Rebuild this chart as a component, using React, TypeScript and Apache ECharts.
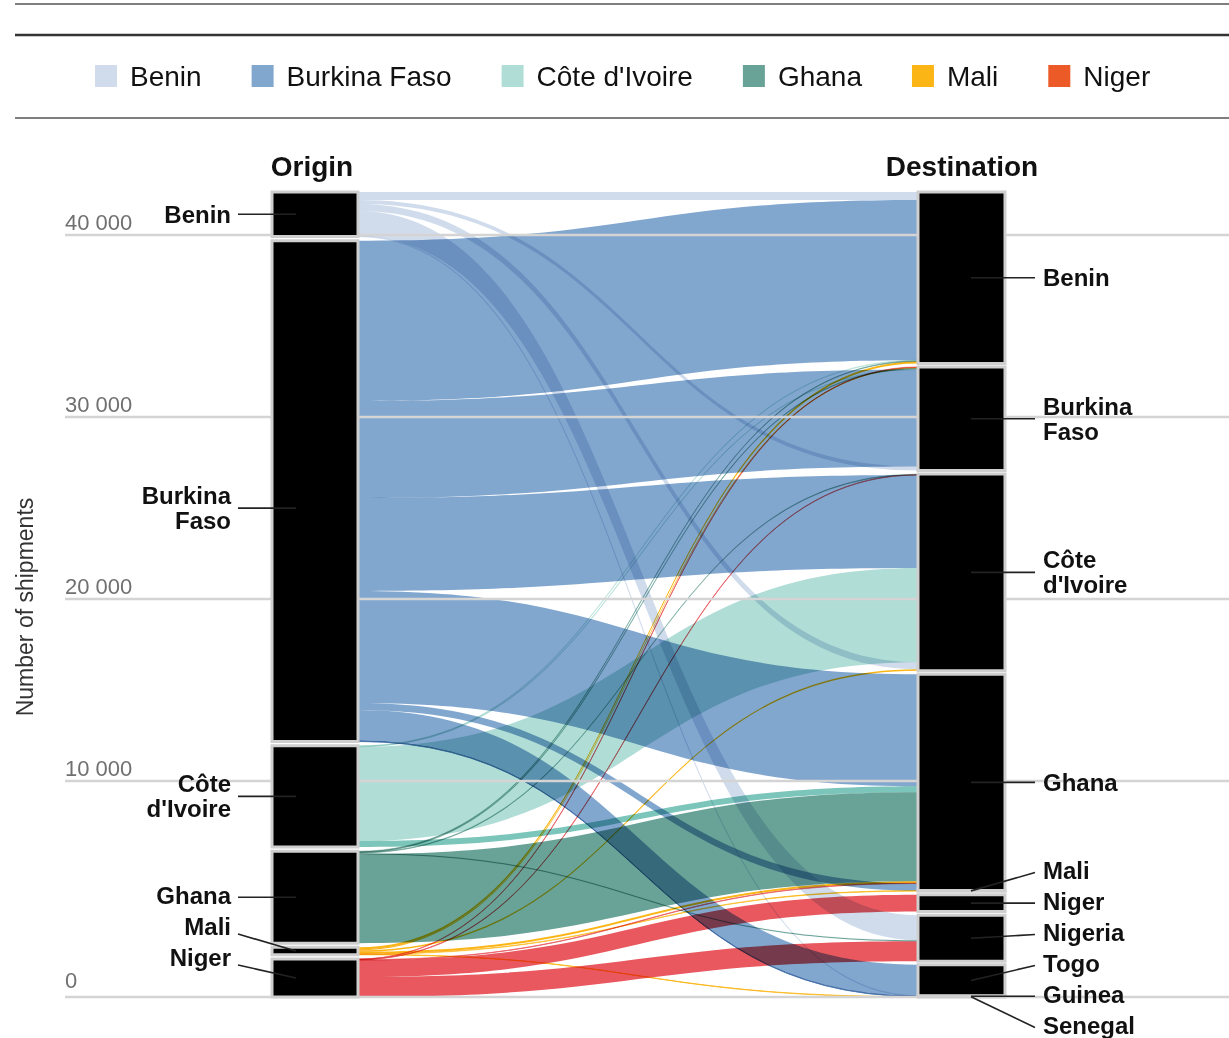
import React, { useEffect, useRef } from "react";
import * as echarts from "echarts";

// ---------- data ----------
const originNames = ["Benin", "Burkina Faso", "Côte d'Ivoire", "Ghana", "Mali", "Niger"];
const destinationNames = ["Benin", "Burkina Faso", "Côte d'Ivoire", "Ghana", "Mali", "Niger", "Nigeria", "Togo", "Guinea", "Senegal"];
const originLabels = ["Benin", "Burkina\nFaso", "Côte\nd'Ivoire", "Ghana", "Mali", "Niger"];
const destinationLabels = ["Benin", "Burkina\nFaso", "Côte\nd'Ivoire", "Ghana", "Mali", "Niger", "Nigeria", "Togo", "Guinea", "Senegal"];
const legendColors = ["#d0dcec", "#82a7cf", "#b0ddd6", "#69a297", "#fbb615", "#eb5a27"];
const flowColors = ["#d0dcec", "#82a7cf", "#b0ddd6", "#69a297", "#fbb615", "#e8585e"];

// flows listed in the order they leave each origin (top to bottom)
const flowOrigin = [
  "Benin", "Benin", "Benin", "Benin", "Benin",
  "Burkina Faso", "Burkina Faso", "Burkina Faso", "Burkina Faso", "Burkina Faso", "Burkina Faso", "Burkina Faso", "Burkina Faso",
  "Côte d'Ivoire", "Côte d'Ivoire", "Côte d'Ivoire", "Côte d'Ivoire",
  "Ghana", "Ghana", "Ghana", "Ghana", "Ghana",
  "Mali", "Mali", "Mali", "Mali", "Mali", "Mali",
  "Niger", "Niger", "Niger", "Niger", "Niger",
];
const flowDestination = [
  "Benin", "Burkina Faso", "Côte d'Ivoire", "Nigeria", "Togo",
  "Benin", "Burkina Faso", "Côte d'Ivoire", "Ghana", "Ghana", "Togo", "Guinea", "Senegal",
  "Benin", "Burkina Faso", "Côte d'Ivoire", "Ghana",
  "Benin", "Burkina Faso", "Côte d'Ivoire", "Nigeria", "Ghana",
  "Benin", "Burkina Faso", "Côte d'Ivoire", "Ghana", "Mali", "Senegal",
  "Burkina Faso", "Côte d'Ivoire", "Ghana", "Niger", "Nigeria",
];
const flowShipments = [
  440, 220, 390, 1380, 20,
  8800, 5330, 5110, 6150, 390, 1700, 15, 15,
  35, 30, 5170, 330,
  35, 35, 35, 55, 4890,
  110, 55, 80, 110, 30, 20,
  20, 20, 20, 930, 1100,
];
// order in which flows arrive into each destination (smaller = higher)
const flowDestRank = [
  0, 9, 7, 0, 5,
  1, 5, 3, 0, 9, 1, 0, 0,
  2, 4, 5, 2,
  3, 3, 0, 1, 3,
  4, 2, 8, 4, 0, 1,
  1, 1, 5, 0, 2,
];
const tickValues = [0, 10000, 20000, 30000, 40000];

// ---------- layout / style constants ----------
const AXIS_MIN = -1868;
const AXIS_MAX = 42363;
const X_MAX = 1164;
const ORIGIN_LEFT = 207;
const ORIGIN_RIGHT = 293;
const DEST_LEFT = 853;
const DEST_RIGHT = 940;
const FONT = "'Liberation Sans', Arial, Helvetica, sans-serif";
const originLabelNudge = [0, 17, 0, 0, 0, 0];
const flowColorOverride: Record<number, string> = { 16: "#7cc5ba" };

const sum = (a: number[]) => a.reduce((s, v) => s + v, 0);
const originTotals = originNames.map((n) => sum(flowShipments.filter((_, f) => flowOrigin[f] === n)));
const destTotals = destinationNames.map((n) => sum(flowShipments.filter((_, f) => flowDestination[f] === n)));

function stackColumn(totals: number[]) {
  const TINY = 100;
  const hasGap = totals.map((t, i) => i > 0 && t >= TINY);
  const nGaps = hasGap.filter(Boolean).length;
  const gap = (AXIS_MAX - AXIS_MIN - sum(totals)) / nGaps;
  let cur = AXIS_MAX;
  return totals.map((t, i) => {
    if (hasGap[i]) cur -= gap;
    const top = cur;
    cur -= t;
    return [top, cur];
  });
}
const originNodes = stackColumn(originTotals);
const destNodes = stackColumn(destTotals);

const flowSrc: number[][] = [];
const flowDst: number[][] = [];
originNames.forEach((n, i) => {
  let cur = originNodes[i][0];
  flowShipments.forEach((v, f) => {
    if (flowOrigin[f] === n) {
      flowSrc[f] = [cur, cur - v];
      cur -= v;
    }
  });
});
destinationNames.forEach((n, j) => {
  let cur = destNodes[j][0];
  const list = flowShipments.map((_, f) => f).filter((f) => flowDestination[f] === n);
  list.sort((a, b) => flowDestRank[a] - flowDestRank[b] || a - b);
  list.forEach((f) => {
    flowDst[f] = [cur, cur - flowShipments[f]];
    cur -= flowShipments[f];
  });
});

function relax(centers: number[], heights: number[], minY: number, maxY: number) {
  const y = centers.map((c) => Math.min(maxY, Math.max(minY, c)));
  for (let it = 0; it < 400; it++) {
    for (let i = 0; i < y.length - 1; i++) {
      const sep = (heights[i] + heights[i + 1]) / 2 + 6;
      const d = sep - (y[i + 1] - y[i]);
      if (d > 0) {
        y[i] -= d / 2;
        y[i + 1] += d / 2;
      }
    }
    for (let i = 0; i < y.length; i++) y[i] = Math.min(maxY, Math.max(minY, y[i]));
  }
  return y;
}

const fmt = (v: number) => String(v).replace(/\B(?=(\d{3})+(?!\d))/g, " ");

function buildOption() {
  const flowSeries = originNames.map((name, oi) => ({
    type: "custom",
    name,
    z: 1,
    silent: true,
    coordinateSystem: "cartesian2d",
    itemStyle: { color: legendColors[oi] },
    data: flowShipments.map((_, f) => f).filter((f) => flowOrigin[f] === name).map((f) => [f, 0]),
    renderItem: (params: any, api: any) => {
      const f = api.value(0);
      const sx = api.coord([ORIGIN_RIGHT, 0])[0];
      const dx = api.coord([DEST_LEFT, 0])[0];
      const sy0 = api.coord([0, flowSrc[f][0]])[1];
      const sy1 = api.coord([0, flowSrc[f][1]])[1];
      const ty0 = api.coord([0, flowDst[f][0]])[1];
      const ty1 = api.coord([0, flowDst[f][1]])[1];
      const mx = (sx + dx) / 2;
      const d =
        `M${sx},${sy0}C${mx},${sy0} ${mx},${ty0} ${dx},${ty0}` +
        `L${dx},${ty1}C${mx},${ty1} ${mx},${sy1} ${sx},${sy1}Z`;
      const thick = Math.abs(sy1 - sy0);
      const color = flowColorOverride[f] || flowColors[oi];
      return {
        type: "path",
        shape: { pathData: d },
        style: {
          fill: color,
          stroke: thick < 1.1 ? color : "none",
          lineWidth: thick < 1.1 ? 1.1 - thick : 0,
        },
      };
    },
  }));

  const gridSeries = {
    type: "custom",
    name: "grid",
    z: 2,
    silent: true,
    coordinateSystem: "cartesian2d",
    data: tickValues.map((v) => [0, v]),
    renderItem: (params: any, api: any) => {
      const v = api.value(1);
      const y = api.coord([0, v === 0 ? AXIS_MIN : v])[1];
      const x0 = api.coord([0, 0])[0];
      const x1 = api.coord([X_MAX, 0])[0];
      return {
        type: "group",
        children: [
          { type: "line", shape: { x1: x0, y1: y, x2: x1, y2: y }, style: { stroke: "#d4d4d4", lineWidth: 2.5 } },
          {
            type: "text",
            x: x0,
            y: y - (v === 0 ? 17 : 13),
            style: { text: fmt(v), fill: "#707070", fontSize: 22, fontFamily: FONT, align: "left", verticalAlign: "middle" },
          },
        ],
      };
    },
  };

  const nodeData: number[][] = [];
  originNames.forEach((_, i) => nodeData.push([0, i]));
  destinationNames.forEach((_, j) => nodeData.push([1, j]));
  const nodeSeries = {
    type: "custom",
    name: "nodes",
    z: 3,
    silent: true,
    coordinateSystem: "cartesian2d",
    data: nodeData,
    renderItem: (params: any, api: any) => {
      const col = api.value(0);
      const idx = api.value(1);
      const node = col === 0 ? originNodes[idx] : destNodes[idx];
      const [l, r] = col === 0 ? [ORIGIN_LEFT, ORIGIN_RIGHT] : [DEST_LEFT, DEST_RIGHT];
      const p0 = api.coord([l, node[0]]);
      const p1 = api.coord([r, node[1]]);
      return {
        type: "rect",
        shape: { x: p0[0], y: p0[1], width: p1[0] - p0[0], height: Math.max(p1[1] - p0[1], 0.3) },
        style: { fill: "#000", stroke: "#cfcfcf", lineWidth: 3 },
      };
    },
  };

  const labelSeries = {
    type: "custom",
    name: "labels",
    z: 4,
    silent: true,
    coordinateSystem: "cartesian2d",
    data: [[0, 0]],
    renderItem: (params: any, api: any) => {
      const children: any[] = [];
      const yOf = (v: number) => api.coord([0, v])[1];
      const xOf = (x: number) => api.coord([x, 0])[0];
      const textStyle = { fontSize: 24, fontWeight: "bold", fontFamily: FONT, fill: "#111", lineHeight: 25, verticalAlign: "middle" };

      // origin labels
      const oc = originNodes.map((n, i) => (yOf(n[0]) + yOf(n[1])) / 2 + originLabelNudge[i]);
      const oh = originLabels.map((t) => t.split("\n").length * 25);
      const oy = relax(oc, oh, 200, 957);
      originLabels.forEach((t, i) => {
        const moved = Math.abs(oy[i] - oc[i]) > 5;
        children.push({ type: "text", x: xOf(166), y: oy[i], style: { ...textStyle, text: t, align: "right" } });
        children.push({
          type: "line",
          shape: { x1: xOf(173), y1: moved ? oy[i] + 8 : oc[i], x2: xOf(231), y2: oc[i] },
          style: { stroke: "#222", lineWidth: 1.6 },
        });
      });

      // destination labels
      const dc = destNodes.map((n) => (yOf(n[0]) + yOf(n[1])) / 2);
      const dh = destinationLabels.map((t) => t.split("\n").length * 25);
      const dy = relax(dc, dh, 200, 1025.5);
      destinationLabels.forEach((t, j) => {
        const moved = Math.abs(dy[j] - dc[j]) > 5;
        children.push({ type: "text", x: xOf(978), y: dy[j], style: { ...textStyle, text: t, align: "left" } });
        children.push({
          type: "line",
          shape: { x1: xOf(970), y1: moved ? dy[j] + 2 : dc[j], x2: xOf(906), y2: dc[j] },
          style: { stroke: "#222", lineWidth: 1.6 },
        });
      });
      return { type: "group", children };
    },
  };

  return {
    animation: false,
    color: legendColors,
    textStyle: { fontFamily: FONT },
    grid: { left: 65, right: 0, top: 192, bottom: 41 },
    xAxis: { type: "value", min: 0, max: X_MAX, show: false },
    yAxis: { type: "value", min: AXIS_MIN, max: AXIS_MAX, show: false },
    legend: {
      data: originNames,
      top: 62,
      left: 95,
      padding: 0,
      icon: "rect",
      itemWidth: 22,
      itemHeight: 22,
      itemGap: 50,
      selectedMode: false,
      textStyle: { fontSize: 28, color: "#111", fontFamily: FONT, lineHeight: 28, padding: [0, 0, 0, 8] },
    },
    graphic: [
      { type: "line", shape: { x1: 15, y1: 4, x2: 1229, y2: 4 }, style: { stroke: "#555", lineWidth: 1.5 } },
      { type: "line", shape: { x1: 15, y1: 35, x2: 1229, y2: 35 }, style: { stroke: "#333", lineWidth: 2.5 } },
      { type: "line", shape: { x1: 15, y1: 118, x2: 1229, y2: 118 }, style: { stroke: "#555", lineWidth: 1.5 } },
      {
        type: "text", x: 312, y: 166,
        style: { text: "Origin", fontSize: 28, fontWeight: "bold", fontFamily: FONT, fill: "#111", align: "center", verticalAlign: "middle" },
      },
      {
        type: "text", x: 962, y: 166,
        style: { text: "Destination", fontSize: 28, fontWeight: "bold", fontFamily: FONT, fill: "#111", align: "center", verticalAlign: "middle" },
      },
      {
        type: "text", x: 25, y: 607, rotation: Math.PI / 2,
        style: { text: "Number of shipments", fontSize: 23, fontFamily: FONT, fill: "#333", align: "center", verticalAlign: "middle" },
      },
    ],
    series: [...flowSeries, gridSeries, nodeSeries, labelSeries],
  };
}

export default function App() {
  const ref = useRef<HTMLDivElement>(null);
  useEffect(() => {
    const chart = echarts.init(ref.current!, null, { renderer: "svg" });
    chart.setOption(buildOption() as any);
    return () => chart.dispose();
  }, []);
  const blendColors = [...flowColors, ...Object.values(flowColorOverride)];
  const css = blendColors.map((c) => `#chart path[fill="${c}"]{mix-blend-mode:multiply;}`).join("\n");
  return (
    <>
      <style>{css}</style>
      <div id="chart" ref={ref} style={{ position: "absolute", left: 0, top: 0, width: 1229, height: 1038, background: "#fff" }} />
    </>
  );
}
